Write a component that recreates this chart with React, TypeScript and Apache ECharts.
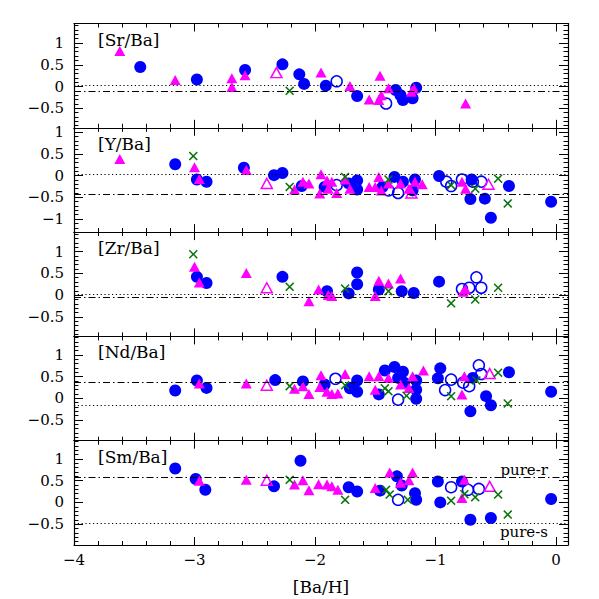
import React, { useEffect, useRef } from "react";
import * as echarts from "echarts";

// ---- panel definitions ----
const panelNames = ["[Sr/Ba]", "[Y/Ba]", "[Zr/Ba]", "[Nd/Ba]", "[Sm/Ba]"];
const yMins = [-0.95, -1.3, -0.95, -0.975, -0.98];
const yMaxs = [1.45, 1.1, 1.45, 1.425, 1.42];
const pureS = [0.02, 0.03, 0.01, -0.17, -0.49];
const pureR = [-0.11, -0.44, -0.04, 0.38, 0.58];
const xMin = -4;
const xMax = 0.1;

// ---- [Sr/Ba] ----
const srCircle = [[-3.45, 0.45], [-2.98, 0.16], [-2.58, 0.38], [-2.27, 0.51], [-2.13, 0.28], [-2.09, 0.06], [-1.91, 0.02], [-1.65, -0.22], [-1.33, -0.08], [-1.29, -0.2], [-1.27, -0.31], [-1.19, -0.27], [-1.16, -0.03]];
const srOpenCircle = [[-1.82, 0.12], [-1.41, -0.39]];
const srTriangle = [[-3.62, 0.82], [-3.16, 0.15], [-2.69, 0.19], [-2.69, -0.01], [-2.58, 0.26], [-1.95, 0.32], [-1.71, 0.01], [-1.55, -0.3], [-1.46, 0.25], [-1.47, -0.31], [-1.45, -0.2], [-1.39, -0.04], [-1.2, -0.12], [-1.18, -0.04], [-0.75, -0.39]];
const srOpenTriangle = [[-2.32, 0.32]];
const srCross = [[-2.21, -0.1]];

// ---- [Y/Ba] ----
const yCircle = [[-3.16, 0.26], [-2.98, -0.09], [-2.9, -0.14], [-2.59, 0.18], [-2.34, 0.01], [-2.27, 0.06], [-2.11, -0.24], [-1.92, -0.26], [-1.72, -0.18], [-1.65, -0.11], [-1.65, -0.32], [-1.44, -0.26], [-1.34, -0.03], [-1.27, -0.14], [-1.19, -0.34], [-1.17, -0.09], [-0.97, -0.01], [-0.7, -0.09], [-0.71, -0.54], [-0.59, -0.53], [-0.54, -0.97], [-0.39, -0.24], [-0.04, -0.6]];
const yOpenCircle = [[-1.82, -0.22], [-1.39, -0.34], [-1.31, -0.4], [-0.91, -0.14], [-0.87, -0.24], [-0.78, -0.09], [-0.69, -0.14], [-0.62, -0.14]];
const yTriangle = [[-3.62, 0.38], [-3.0, 0.19], [-2.96, -0.08], [-2.57, 0.13], [-2.17, -0.32], [-2.1, -0.14], [-2.05, -0.18], [-1.95, 0.03], [-1.96, -0.41], [-1.9, -0.11], [-1.89, -0.3], [-1.86, -0.14], [-1.82, -0.4], [-1.75, -0.09], [-1.71, -0.3], [-1.55, -0.26], [-1.5, -0.26], [-1.47, -0.03], [-1.45, -0.34], [-1.39, -0.18], [-1.29, -0.18], [-1.22, -0.3], [-1.17, -0.14], [-1.11, -0.2], [-0.78, -0.14], [-0.75, -0.3]];
const yOpenTriangle = [[-2.4, -0.18], [-1.2, -0.4], [-0.56, -0.2]];
const yCross = [[-3.01, 0.45], [-2.21, -0.26], [-1.75, -0.03], [-1.39, -0.09], [-0.87, -0.22], [-0.67, -0.3], [-0.48, -0.07], [-0.4, -0.64]];

// ---- [Zr/Ba] ----
const zrCircle = [[-2.98, 0.42], [-2.9, 0.28], [-2.27, 0.42], [-1.9, 0.09], [-1.72, 0.04], [-1.65, 0.52], [-1.65, 0.25], [-1.47, 0.13], [-1.28, 0.09], [-1.18, 0.05], [-0.97, 0.31]];
const zrOpenCircle = [[-0.78, 0.14], [-0.72, 0.17], [-0.66, 0.41], [-0.62, 0.17]];
const zrTriangle = [[-3.0, 0.65], [-2.96, 0.29], [-2.57, 0.51], [-2.05, -0.14], [-1.97, 0.13], [-1.89, 0.0], [-1.86, -0.02], [-1.5, -0.02], [-1.47, 0.33], [-1.39, 0.27], [-1.29, 0.38], [-0.77, 0.08], [-0.75, 0.13]];
const zrOpenTriangle = [[-2.4, 0.17]];
const zrCross = [[-3.01, 0.94], [-2.21, 0.19], [-1.75, 0.15], [-1.39, 0.09], [-0.87, -0.19], [-0.67, -0.1], [-0.48, 0.17]];

// ---- [Nd/Ba] ----
const ndCircle = [[-3.16, 0.18], [-2.98, 0.41], [-2.9, 0.24], [-2.33, 0.42], [-2.1, 0.39], [-1.92, 0.32], [-1.71, 0.23], [-1.65, 0.41], [-1.65, 0.15], [-1.47, 0.09], [-1.42, 0.64], [-1.34, 0.72], [-1.31, 0.47], [-1.27, 0.61], [-1.26, 0.36], [-1.16, 0.41], [-1.16, 0.2], [-1.16, -0.01], [-0.96, 0.69], [-0.98, 0.46], [-0.69, 0.47], [-0.71, -0.3], [-0.58, 0.05], [-0.54, -0.16], [-0.39, 0.6], [-0.04, 0.15]];
const ndOpenCircle = [[-1.83, 0.45], [-1.31, -0.03], [-0.92, 0.19], [-0.87, 0.43], [-0.77, 0.36], [-0.72, 0.28], [-0.64, 0.76], [-0.62, 0.56]];
const ndTriangle = [[-2.96, 0.34], [-2.57, 0.34], [-2.17, 0.22], [-2.1, 0.28], [-2.05, 0.1], [-1.95, 0.53], [-1.96, 0.26], [-1.9, 0.15], [-1.86, 0.1], [-1.81, 0.11], [-1.75, 0.56], [-1.55, 0.51], [-1.5, 0.2], [-1.47, 0.51], [-1.39, 0.47], [-1.29, 0.32], [-1.22, 0.24], [-1.19, 0.51], [-1.1, 0.64], [-0.76, 0.51], [-0.78, 0.09]];
const ndOpenTriangle = [[-2.4, 0.3], [-0.55, 0.57]];
const ndCross = [[-2.21, 0.28], [-1.75, 0.3], [-1.42, 0.23], [-1.39, 0.16], [-1.24, 0.06], [-0.87, 0.05], [-0.66, 0.41], [-0.48, 0.59], [-0.4, -0.12]];

// ---- [Sm/Ba] ----
const smCircle = [[-3.16, 0.78], [-2.99, 0.54], [-2.91, 0.29], [-2.34, 0.37], [-2.12, 0.96], [-1.72, 0.35], [-1.65, 0.25], [-1.46, 0.27], [-1.32, 0.6], [-1.28, 0.39], [-1.17, 0.21], [-1.16, 0.06], [-0.98, 0.48], [-0.96, 0.0], [-0.78, 0.48], [-0.71, -0.4], [-0.54, -0.36], [-0.04, 0.08]];
const smOpenCircle = [[-1.31, 0.06], [-0.87, 0.35], [-0.73, 0.29], [-0.64, 0.31]];
const smTriangle = [[-2.96, 0.5], [-2.57, 0.52], [-2.17, 0.41], [-2.1, 0.51], [-2.05, 0.28], [-1.97, 0.42], [-1.9, 0.41], [-1.86, 0.37], [-1.81, 0.29], [-1.5, 0.33], [-1.38, 0.69], [-1.29, 0.45], [-1.22, 0.51], [-1.19, 0.69], [-0.76, 0.52], [-0.78, 0.1]];
const smOpenTriangle = [[-2.4, 0.51], [-0.55, 0.37]];
const smCross = [[-2.21, 0.52], [-1.75, 0.06], [-1.41, 0.29], [-1.38, 0.18], [-1.23, 0.06], [-0.87, 0.04], [-0.76, 0.19], [-0.67, 0.12], [-0.48, 0.18], [-0.4, -0.28]];

const circles = [srCircle, yCircle, zrCircle, ndCircle, smCircle];
const openCircles = [srOpenCircle, yOpenCircle, zrOpenCircle, ndOpenCircle, smOpenCircle];
const triangles = [srTriangle, yTriangle, zrTriangle, ndTriangle, smTriangle];
const openTriangles = [srOpenTriangle, yOpenTriangle, zrOpenTriangle, ndOpenTriangle, smOpenTriangle];
const crosses = [srCross, yCross, zrCross, ndCross, smCross];

const BLUE = "#0000ff";
const MAGENTA = "#ff00ff";
const GREEN = "#0b750b";
const FONT = "DejaVu Serif";
const CROSS =
  "path://M0,1.2L1.2,0L5,3.8L8.8,0L10,1.2L6.2,5L10,8.8L8.8,10L5,6.2L1.2,10L0,8.8L3.8,5Z";

const LEFT = 74;
const WIDTH = 494;
const TOP0 = 23.5;
const PH = 104.3;

function fmtNum(v: number): string {
  const r = Math.round(v * 100) / 100;
  if (r < 0) return "\u2212" + String(Math.abs(r));
  return String(r);
}

export default function App() {
  const ref = useRef<HTMLDivElement>(null);
  useEffect(() => {
    if (!ref.current) return;
    const chart = echarts.init(ref.current, null, { renderer: "svg" });
    const grids: any[] = [];
    const xAxes: any[] = [];
    const yAxes: any[] = [];
    const series: any[] = [];
    const graphics: any[] = [];

    panelNames.forEach((name, k) => {
      grids.push({ left: LEFT, width: WIDTH, top: TOP0 + k * PH, height: PH });
      const xBase = (position: string, major: boolean, labels: boolean) => ({
        type: "value",
        gridIndex: k,
        position,
        min: xMin,
        max: xMax,
        splitNumber: major ? 4 : 20,
        minInterval: major ? 1 : 0.2,
        maxInterval: major ? 1 : 0.2,
        splitLine: { show: false },
        axisLine: { show: major, onZero: false, lineStyle: { color: "#000", width: 1.2 } },
        axisTick: { show: true, inside: true, length: major ? 8 : 4, lineStyle: { color: "#000", width: 1 } },
        axisLabel: {
          show: labels,
          margin: 7,
          fontFamily: FONT,
          fontSize: 15,
          color: "#000",
          formatter: (v: number) => (Math.abs(v - Math.round(v)) < 1e-6 ? fmtNum(v) : ""),
        },
      });
      xAxes.push(xBase("bottom", true, k === 4));
      xAxes.push(xBase("bottom", false, false));
      xAxes.push(xBase("top", true, false));
      xAxes.push(xBase("top", false, false));

      const yBase = (position: string, major: boolean, labels: boolean) => ({
        type: "value",
        gridIndex: k,
        position,
        min: yMins[k],
        max: yMaxs[k],
        splitNumber: major ? 5 : 24,
        minInterval: major ? 0.5 : 0.1,
        maxInterval: major ? 0.5 : 0.1,
        splitLine: { show: false },
        axisLine: { show: major, onZero: false, lineStyle: { color: "#000", width: 1.2 } },
        axisTick: { show: true, inside: true, length: major ? 9 : 4.5, lineStyle: { color: "#000", width: 1 } },
        axisLabel: {
          show: labels,
          margin: 10,
          fontFamily: FONT,
          fontSize: 15,
          color: "#000",
          formatter: (v: number) => (Math.abs(v * 2 - Math.round(v * 2)) < 1e-6 ? fmtNum(v) : ""),
        },
      });
      yAxes.push(yBase("left", true, true));
      yAxes.push(yBase("left", false, false));
      yAxes.push(yBase("right", true, false));
      yAxes.push(yBase("right", false, false));

      const ax = { xAxisIndex: 4 * k, yAxisIndex: 4 * k };
      series.push({
        type: "scatter",
        ...ax,
        data: circles[k],
        symbol: "circle",
        symbolSize: 12,
        itemStyle: { color: BLUE, opacity: 1 },
        markLine: {
          silent: true,
          symbol: ["none", "none"],
          label: { show: false },
          data: [
            { yAxis: pureS[k], lineStyle: { color: "#000", width: 1, type: [1.2, 2.6] } },
            { yAxis: pureR[k], lineStyle: { color: "#000", width: 1, type: [7, 3, 1.5, 3] } },
          ],
        },
      });
      series.push({
        type: "scatter",
        ...ax,
        data: openCircles[k],
        symbol: "circle",
        symbolSize: 11,
        itemStyle: { color: "rgba(0,0,0,0)", borderColor: BLUE, borderWidth: 1.5, opacity: 1 },
      });
      series.push({
        type: "scatter",
        ...ax,
        data: triangles[k],
        symbol: "triangle",
        symbolSize: [11, 10],
        itemStyle: { color: MAGENTA, opacity: 1 },
      });
      series.push({
        type: "scatter",
        ...ax,
        data: openTriangles[k],
        symbol: "triangle",
        symbolSize: [11, 10],
        itemStyle: { color: "rgba(0,0,0,0)", borderColor: MAGENTA, borderWidth: 1.5, opacity: 1 },
      });
      series.push({
        type: "scatter",
        ...ax,
        data: crosses[k],
        symbol: CROSS,
        symbolSize: 9,
        itemStyle: { color: GREEN, opacity: 1 },
      });

      graphics.push({
        type: "text",
        x: 98,
        y: TOP0 + k * PH + 16,
        style: { text: name, fontFamily: FONT, fontSize: 17, fill: "#000", textAlign: "left", textVerticalAlign: "middle" },
      });
    });

    graphics.push({
      type: "text",
      x: 548,
      y: 470,
      style: { text: "pure-r", fontFamily: FONT, fontSize: 15, fill: "#000", textAlign: "right", textVerticalAlign: "middle" },
    });
    graphics.push({
      type: "text",
      x: 548,
      y: 532,
      style: { text: "pure-s", fontFamily: FONT, fontSize: 15, fill: "#000", textAlign: "right", textVerticalAlign: "middle" },
    });
    graphics.push({
      type: "text",
      x: LEFT + WIDTH / 2,
      y: 587,
      style: { text: "[Ba/H]", fontFamily: FONT, fontSize: 17, fill: "#000", textAlign: "center", textVerticalAlign: "middle" },
    });

    chart.setOption({
      animation: false,
      backgroundColor: "#fff",
      grid: grids,
      xAxis: xAxes,
      yAxis: yAxes,
      series,
      graphic: graphics,
    });
    return () => chart.dispose();
  }, []);
  return <div ref={ref} style={{ width: 599, height: 599, position: "absolute", left: 0, top: 0 }} />;
}
